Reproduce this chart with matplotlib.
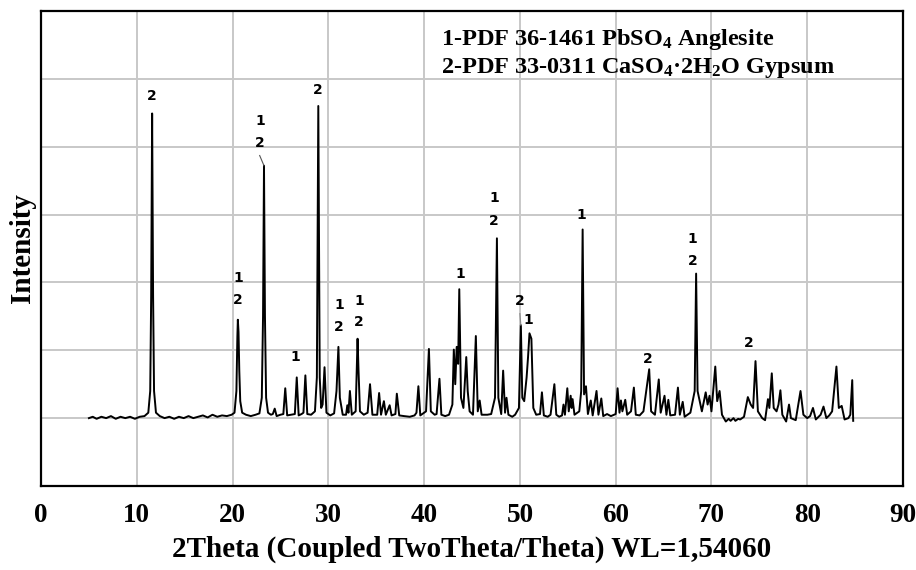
import matplotlib
matplotlib.use("Agg")
import matplotlib.pyplot as plt

plt.rcParams['font.family'] = ['Liberation Serif', 'DejaVu Serif']
plt.rcParams['mathtext.fontset'] = 'custom'
plt.rcParams['mathtext.rm'] = 'Liberation Serif:bold'
plt.rcParams['mathtext.bf'] = 'Liberation Serif:bold'
plt.rcParams['mathtext.it'] = 'Liberation Serif:bold'

# XRD profile vertices (2theta, intensity in grid units)
two_theta = [
    5.0, 5.4, 5.8, 6.3, 6.8, 7.3, 7.8, 8.3, 8.8, 9.3, 9.8, 10.3, 10.8, 11.2, 11.4, 11.5,
    11.6, 11.7, 11.8, 12.0, 12.4, 12.9, 13.4, 13.9, 14.4, 14.9, 15.4, 15.9, 16.4, 16.9,
    17.4, 17.9, 18.4, 18.9, 19.4, 19.9, 20.2, 20.4, 20.5, 20.55, 20.62, 20.7, 20.8, 21.0,
    21.4, 21.9, 22.4, 22.8, 23.05, 23.18, 23.28, 23.38, 23.5, 23.7, 24.0, 24.2, 24.4, 24.6,
    25.0, 25.3, 25.5, 25.7, 26.1, 26.5, 26.7, 26.9, 27.2, 27.4, 27.6, 27.8, 28.2, 28.6,
    28.8, 28.95, 29.1, 29.25, 29.4, 29.6, 29.8, 30.2, 30.6, 30.85, 31.05, 31.2, 31.5,
    31.85, 31.98, 32.1, 32.25, 32.45, 32.85, 33.05, 33.15, 33.3, 33.7, 34.1, 34.35, 34.6,
    35.1, 35.3, 35.5, 35.8, 36.0, 36.4, 36.6, 37.0, 37.15, 37.4, 37.9, 38.5, 39.0, 39.2,
    39.4, 39.6, 40.2, 40.5, 40.7, 41.1, 41.3, 41.6, 41.8, 42.2, 42.6, 42.95, 43.1, 43.25,
    43.4, 43.55, 43.67, 43.85, 44.1, 44.4, 44.55, 44.75, 45.1, 45.4, 45.6, 45.8, 46.0,
    46.6, 47.0, 47.4, 47.6, 47.75, 48.05, 48.25, 48.45, 48.6, 48.8, 49.2, 49.5, 49.9, 50.1,
    50.25, 50.45, 50.7, 50.85, 51.0, 51.2, 51.4, 51.7, 52.1, 52.3, 52.5, 52.9, 53.2, 53.6,
    53.8, 54.1, 54.4, 54.55, 54.7, 54.95, 55.1, 55.3, 55.4, 55.5, 55.7, 56.2, 56.4, 56.55,
    56.7, 56.9, 57.1, 57.4, 57.6, 58.0, 58.2, 58.5, 58.7, 59.1, 59.5, 60.0, 60.2, 60.4,
    60.55, 60.7, 61.0, 61.2, 61.6, 61.9, 62.1, 62.5, 62.9, 63.5, 63.7, 64.1, 64.5, 64.7,
    65.1, 65.3, 65.5, 65.7, 66.2, 66.5, 66.7, 67.0, 67.2, 67.5, 67.8, 68.25, 68.4, 68.55,
    69.0, 69.4, 69.6, 69.8, 70.0, 70.4, 70.6, 70.85, 71.1, 71.5, 71.8, 72.0, 72.3, 72.5,
    72.8, 73.0, 73.4, 73.8, 74.1, 74.35, 74.6, 74.85, 75.3, 75.6, 75.9, 76.05, 76.3, 76.5,
    76.8, 77.0, 77.2, 77.4, 77.8, 78.1, 78.3, 78.8, 79.3, 79.6, 80.0, 80.3, 80.6, 80.9,
    81.4, 81.7, 82.0, 82.3, 82.6, 83.05, 83.3, 83.6, 83.9, 84.3, 84.5, 84.7, 84.8,
]
intensity = [
    0.0, 0.02, -0.01, 0.02, 0.0, 0.03, -0.01, 0.02, 0.0, 0.02, -0.01, 0.02, 0.03, 0.08, 0.4, 1.8,
    4.49, 1.8, 0.4, 0.08, 0.03, 0.0, 0.02, -0.01, 0.02, 0.0, 0.03, 0.0, 0.02, 0.04,
    0.01, 0.05, 0.02, 0.04, 0.03, 0.05, 0.08, 0.4, 1.2, 1.45, 1.27, 0.7, 0.25, 0.08,
    0.05, 0.03, 0.05, 0.07, 0.3, 1.5, 3.72, 1.5, 0.3, 0.08, 0.05, 0.06, 0.14, 0.03,
    0.05, 0.06, 0.44, 0.04, 0.05, 0.06, 0.6, 0.04, 0.06, 0.08, 0.63, 0.06, 0.05, 0.1,
    0.6, 4.6, 0.6, 0.15, 0.2, 0.75, 0.08, 0.04, 0.07, 0.4, 1.05, 0.3, 0.05,
    0.05, 0.19, 0.08, 0.4, 0.05, 0.1, 1.17, 0.7, 0.1, 0.05, 0.08, 0.5, 0.05,
    0.05, 0.37, 0.05, 0.25, 0.05, 0.19, 0.04, 0.06, 0.36, 0.04, 0.03, 0.02, 0.04, 0.08,
    0.47, 0.04, 0.1, 1.02, 0.1, 0.05, 0.06, 0.58, 0.05, 0.03, 0.05, 0.2, 1.01, 0.5,
    1.05, 0.8, 1.9, 0.3, 0.15, 0.9, 0.4, 0.1, 0.05, 1.21, 0.1, 0.26, 0.05,
    0.05, 0.06, 0.3, 2.65, 0.3, 0.06, 0.7, 0.08, 0.3, 0.05, 0.02, 0.05, 0.15, 1.37,
    0.3, 0.25, 0.6, 0.9, 1.25, 1.17, 0.15, 0.05, 0.06, 0.38, 0.04, 0.02, 0.05, 0.5,
    0.05, 0.02, 0.04, 0.2, 0.05, 0.44, 0.1, 0.33, 0.15, 0.28, 0.05, 0.1, 0.4, 2.78,
    0.35, 0.47, 0.06, 0.26, 0.04, 0.4, 0.05, 0.29, 0.03, 0.06, 0.03, 0.06, 0.44, 0.08,
    0.26, 0.1, 0.27, 0.05, 0.1, 0.45, 0.05, 0.04, 0.1, 0.72, 0.1, 0.05, 0.57, 0.08,
    0.33, 0.05, 0.27, 0.04, 0.05, 0.45, 0.05, 0.24, 0.02, 0.05, 0.08, 0.4, 2.13, 0.4,
    0.1, 0.38, 0.2, 0.33, 0.1, 0.76, 0.25, 0.4, 0.05, -0.05, -0.01, -0.04, 0.0, -0.04,
    -0.01, -0.02, 0.02, 0.31, 0.2, 0.15, 0.84, 0.1, 0.0, -0.03, 0.28, 0.15, 0.66, 0.15,
    0.1, 0.2, 0.41, 0.05, -0.05, 0.2, 0.0, -0.03, 0.4, 0.05, 0.0, 0.03, 0.15, -0.02,
    0.05, 0.17, 0.0, 0.04, 0.1, 0.76, 0.15, 0.18, -0.02, 0.0, 0.05, 0.56, -0.04,
]

# phase labels: text, 2theta, intensity
label_text = ["2", "1", "2", "1", "2", "2", "1", "1", "2", "1", "2", "1",
              "1", "2", "1", "2", "1", "2", "1", "2", "2"]
label_x = [11.6, 22.85, 22.85, 20.55, 20.55, 28.9, 26.5, 31.1, 31.1, 33.2, 33.2, 43.75,
           47.3, 47.3, 56.4, 50.0, 50.9, 63.3, 68.0, 68.0, 73.9]
label_y = [4.75, 4.38, 4.06, 2.06, 1.74, 4.84, 0.9, 1.66, 1.34, 1.72, 1.41, 2.13,
           3.24, 2.9, 2.99, 1.72, 1.44, 0.87, 2.64, 2.32, 1.1]

fig = plt.figure(figsize=(9.16, 5.70), dpi=100)
ax = fig.add_axes([0.0448, 0.1474, 0.9410, 0.8333])

ax.plot(two_theta, intensity, color='black', lw=1.4, zorder=3)

for t, x, y in zip(label_text, label_x, label_y):
    ax.text(x, y, t, ha='center', va='center', fontsize=10, fontweight='bold',
            family='DejaVu Sans', zorder=4)

# leader lines from labels to peaks
ax.plot([22.83, 23.28], [3.87, 3.72], color='#555555', lw=0.8, zorder=3)
ax.plot([50.0, 50.1], [1.54, 1.37], color='#888888', lw=0.8, zorder=3)

ax.text(0.464, 0.939, r"1-PDF 36-1461 PbSO$_4$ Anglesite", transform=ax.transAxes,
        fontsize=17.5, fontweight='bold', va='center', ha='left')
ax.text(0.464, 0.880, r"2-PDF 33-0311 CaSO$_4$·2H$_2$O Gypsum", transform=ax.transAxes,
        fontsize=17.5, fontweight='bold', va='center', ha='left')

ax.set_xlim(0, 90)
ax.set_ylim(-1, 6)
ax.set_xticks(range(0, 91, 10))
ax.set_yticks(range(0, 6))
ax.set_yticklabels([])
ax.tick_params(axis='both', length=0, pad=12)
for lbl in ax.get_xticklabels():
    lbl.set_fontsize(19.5)
    lbl.set_fontweight('bold')
ax.grid(True, color='#c8c8c8', lw=1.4)
ax.set_axisbelow(True)
for s in ax.spines.values():
    s.set_linewidth(1.6)
    s.set_color('black')

ax.set_xlabel("2Theta (Coupled TwoTheta/Theta) WL=1,54060", fontsize=21,
              fontweight='bold', labelpad=6)
ax.set_ylabel("Intensity", fontsize=21, fontweight='bold')
ax.yaxis.set_label_coords(-0.006, 0.5)

fig.savefig("out.png", dpi=100)
